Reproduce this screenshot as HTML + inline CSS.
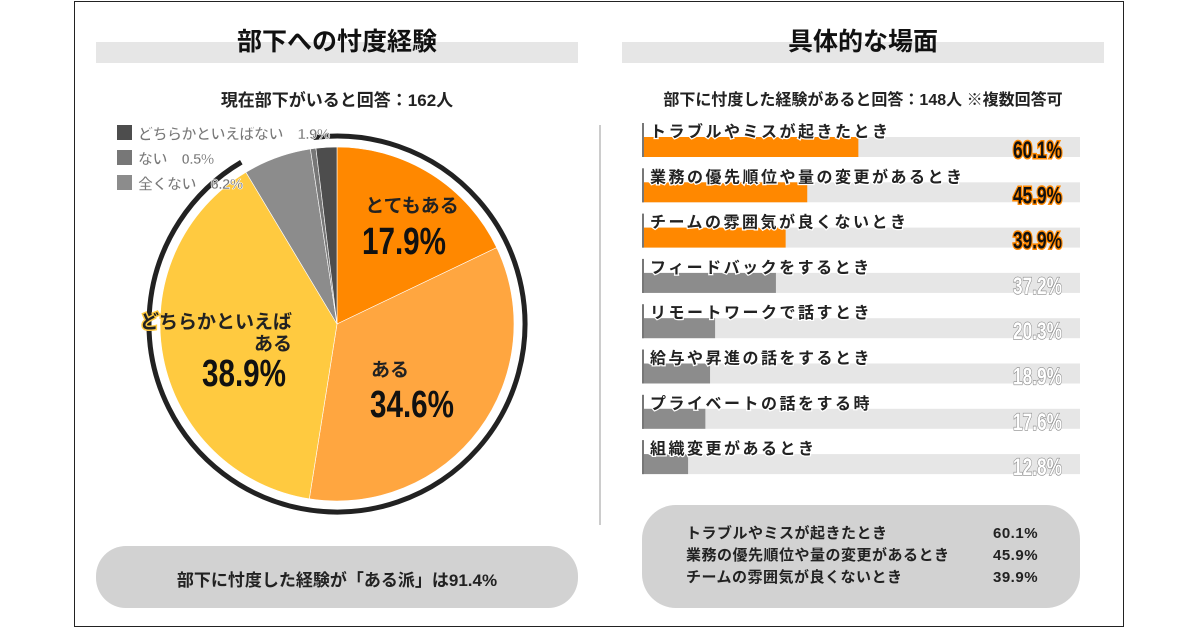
<!DOCTYPE html>
<html><head><meta charset="utf-8">
<style>
body{margin:0;width:1200px;height:630px;background:#fff;position:relative;overflow:hidden;font-family:"Liberation Sans","Noto Sans CJK JP",sans-serif;}
.abs{position:absolute;}
.title{font-size:25px;font-weight:bold;color:#111;text-align:center;}
.tbar{background:#e6e6e6;height:21px;}
.sub{font-size:17px;font-weight:bold;color:#222;text-align:center;}
.pill{background:#d2d2d2;border-radius:30px;}
</style></head>
<body>
<div class="abs" style="left:74px;top:1px;width:1050px;height:626px;border:1.5px solid #222;box-sizing:border-box;"></div>

<div class="abs tbar" style="left:96px;top:42px;width:482px;"></div>
<div class="abs title" style="left:96px;top:22px;width:482px;">部下への忖度経験</div>
<div class="abs sub" style="left:96px;top:86px;width:482px;">現在部下がいると回答：162人</div>

<div class="abs tbar" style="left:622px;top:42px;width:482px;"></div>
<div class="abs title" style="left:622px;top:22px;width:482px;">具体的な場面</div>
<div class="abs sub" style="left:622px;top:86px;width:482px;font-size:16px;">部下に忖度した経験があると回答：148人 ※複数回答可</div>

<div class="abs" style="left:599px;top:125px;width:2px;height:400px;background:#ccc;"></div>

<svg class="abs" style="left:0;top:0" width="1200" height="630" id="pie"></svg>

<svg class="abs" style="left:0;top:0" width="1200" height="630" id="bars"></svg>

<div class="abs pill" style="left:96px;top:546px;width:482px;height:62px;"></div>
<div class="abs" style="left:96px;top:566px;width:482px;text-align:center;font-size:17px;font-weight:bold;color:#222;">部下に忖度した経験が「ある派」は91.4%</div>

<div class="abs pill" style="left:642px;top:505px;width:438px;height:103px;border-radius:34px;"></div>
<div class="abs" style="left:686px;top:523px;font-size:15px;font-weight:bold;color:#222;line-height:22px;letter-spacing:0.5px;">
<div>トラブルやミスが起きたとき<span style="position:absolute;left:307px">60.1%</span></div>
<div>業務の優先順位や量の変更があるとき<span style="position:absolute;left:307px">45.9%</span></div>
<div>チームの雰囲気が良くないとき<span style="position:absolute;left:307px">39.9%</span></div>
</div>

<script>
const pieLabels=["とてもある","ある","どちらかといえばある","全くない","ない","どちらかといえばない"];
const pieValues=[17.9,34.6,38.9,6.2,0.5,1.9];
const pieColors=["#ff8800","#ffa640","#ffca40","#8c8c8c","#777","#4d4d4d"];
const barLabels=["トラブルやミスが起きたとき","業務の優先順位や量の変更があるとき","チームの雰囲気が良くないとき","フィードバックをするとき","リモートワークで話すとき","給与や昇進の話をするとき","プライベートの話をする時","組織変更があるとき"];
const barValues=[60.1,45.9,39.9,37.2,20.3,18.9,17.6,12.8];
const NS="http://www.w3.org/2000/svg";
function mk(parent,tag,attrs){const e=document.createElementNS(NS,tag);for(const k in attrs)e.setAttribute(k,attrs[k]);parent.appendChild(e);return e;}

// pie
const pie=document.getElementById('pie');
const cx=337,cy=324,R=177;
const total=pieValues.reduce((a,b)=>a+b,0);
function pt(r,f){const a=f*2*Math.PI-Math.PI/2;return [cx+r*Math.cos(a),cy+r*Math.sin(a)];}
const rs=pt(188,-0.02),re=pt(188,0.915);
const ring=mk(pie,'path',{d:`M${rs[0]},${rs[1]} A188,188 0 1 1 ${re[0]},${re[1]}`,fill:'none',stroke:'#222','stroke-width':5});


let acc=0;
pieValues.forEach((v,i)=>{
  const f0=acc/total,f1=(acc+v)/total;acc+=v;
  const p0=pt(R,f0),p1=pt(R,f1);
  const s=mk(pie,'path',{d:`M${cx},${cy} L${p0[0]},${p0[1]} A${R},${R} 0 ${(f1-f0)>0.5?1:0} 1 ${p1[0]},${p1[1]} Z`,fill:pieColors[i],stroke:'#fff','stroke-width':0.6});
  
  
});
[[0,"とてもある",412,212,'middle',362,254],[1,"ある",390,376,'middle',370,417],[2,"どちらかといえば",292,328,'end',202,386]].forEach(([i,t,x,y,anc,nx,ny])=>{
  const tl=mk(pie,'text',{x:x,y:y,'text-anchor':anc,'font-size':19,'font-weight':'bold',fill:'#222',stroke:i==2?'#ffca40':'none','stroke-width':3,'paint-order':'stroke'});
  tl.textContent=t;
  
  
  const nl=mk(pie,'text',{x:nx,y:ny,'font-size':38,'font-weight':'bold',fill:'#111',transform:`translate(${nx},${ny}) scale(0.78,1) translate(${-nx},${-ny})`});
  nl.textContent=pieValues[i]+"%";
  
  
});
const t2=mk(pie,'text',{x:292,y:350,'text-anchor':'end','font-size':19,'font-weight':'bold',fill:'#222'});
t2.textContent="ある";


[[5,"どちらかといえばない",133],[4,"ない",158],[3,"全くない",183]].forEach(([i,t,y])=>{
  const r=mk(pie,'rect',{x:117,y:y-8,width:15,height:15,fill:pieColors[i]});
  
  
  const tx=mk(pie,'text',{x:138,y:y+6,'font-size':15,'font-weight':'bold',fill:'#777',stroke:'#fff','stroke-width':0.6,'letter-spacing':-0.5});
  tx.textContent=t+"　"+pieValues[i]+"%";
  
  
});

// bars
const bars=document.getElementById('bars');
const x0=642,scale=3.6,trackW=438,top0=137,step=45.3;
barValues.forEach((v,i)=>{
  const y=top0+i*step;
  const hi=i<3;
  const tr=mk(bars,'rect',{x:x0,y:y,width:trackW,height:20,fill:'#e6e6e6'});
  
  
  const b=mk(bars,'rect',{x:x0,y:y,width:v*scale,height:20,fill:hi?'#ff8800':'#8c8c8c'});
  
  
  const ln=mk(bars,'rect',{x:x0,y:y-14,width:2,height:34,fill:'#777'});
  
  
  const lb=mk(bars,'text',{x:x0+8,y:y,'font-size':16,'font-weight':'bold',fill:'#222',stroke:'#fff','stroke-width':2.5,'paint-order':'stroke','letter-spacing':2.5});
  lb.textContent=barLabels[i];
  
  
  const vx=1062,vy=y+21;
  const vl=mk(bars,'text',{x:vx,y:vy,'text-anchor':'end','font-size':24,'font-weight':'bold',fill:hi?'#111':'#fff',stroke:hi?'#ff8800':'#888','stroke-width':hi?3:1.3,'paint-order':'stroke',transform:`translate(${vx},${vy}) scale(0.72,1) translate(${-vx},${-vy})`});
  vl.textContent=v.toFixed(1)+"%";
  
  
});
</script>
</body></html>
